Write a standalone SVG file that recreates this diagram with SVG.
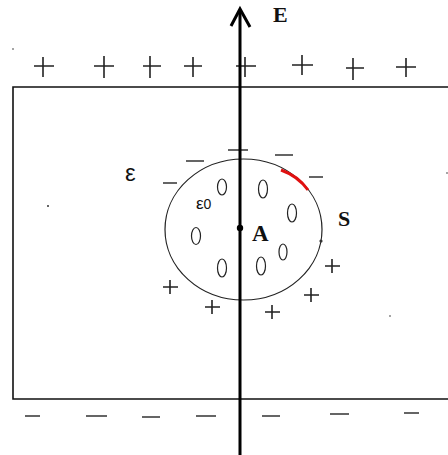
<svg xmlns="http://www.w3.org/2000/svg" width="448" height="455" viewBox="0 0 448 455">
<style>
.pl{stroke:#222;stroke-width:1.6;fill:none}
.mi{stroke:#333;stroke-width:1.6;fill:none}
.ho{stroke:#222;stroke-width:1.2;fill:none}
.lbl{font-family:"Liberation Serif",serif;fill:#111}
.gk{font-family:"Liberation Sans",sans-serif;fill:#111}
</style>
<rect width="448" height="455" fill="#fff"/>
<g id="plate">
<path d="M449 87H13V399H449" fill="none" stroke="#111" stroke-width="1.6"/>
</g>
<g id="top-charges" class="pl">
<path d="M34 66h20M43 57v20"/>
<path d="M94 66h20M104 56v22"/>
<path d="M143 66h18M150 56v22"/>
<path d="M184 66h18M193 57v20"/>
<path d="M236 66h20M245 57v20"/>
<path d="M292 65h21M302 55v20"/>
<path d="M346 68h18M353 58v22"/>
<path d="M396 67h20M406 58v19"/>
</g>
<g id="bottom-charges" class="mi">
<path d="M25 416h15M86 416h21M142 417h18M196 416h20M262 416h18M330 414h19M404 413h15"/>
</g>
<g id="sphere">
<ellipse cx="243.5" cy="229.5" rx="78.5" ry="70.5" fill="none" stroke="#222" stroke-width="1.2"/>
<path d="M281 170 Q298 176 308 190" fill="none" stroke="#e01010" stroke-width="3"/>
<circle cx="321" cy="241" r="1.6" fill="#333"/>
</g>
<g id="holes" class="ho">
<ellipse cx="222" cy="187" rx="4.5" ry="8"/>
<ellipse cx="263" cy="189" rx="4.5" ry="9"/>
<ellipse cx="292" cy="213" rx="4.5" ry="9"/>
<ellipse cx="196" cy="236" rx="4.5" ry="8.5"/>
<ellipse cx="283" cy="252" rx="4" ry="8"/>
<ellipse cx="222" cy="268" rx="4.5" ry="9"/>
<ellipse cx="261" cy="266" rx="4.5" ry="9"/>
</g>
<g id="surface-charges">
<path class="mi" d="M228 150h20M186 161h18M163 183h14M275 155h18M309 177h14"/>
<path class="pl" d="M163 287h15M170 280v14M205 307h15M212 300v14M265 312h15M272 305v14M304 295h15M311 288v14M325 266h15M332 259v14"/>
</g>
<g id="connectors">
<line x1="240" y1="10" x2="240" y2="455" stroke="#000" stroke-width="3"/>
<path d="M231 26L240 9L250 27" fill="none" stroke="#000" stroke-width="3"/>
<circle cx="240" cy="228" r="3.2" fill="#000"/>
</g>
<g id="labels">
<text x="273" y="22" class="lbl" font-size="22" font-weight="bold">E</text>
<text x="125" y="181" class="gk" font-size="24">ε</text>
<text x="196" y="209" class="gk" font-size="17">ε<tspan font-size="14">0</tspan></text>
<text x="252" y="241" class="lbl" font-size="23" font-weight="bold">A</text>
<text x="338" y="226" class="lbl" font-size="22" font-weight="bold">S</text>
</g>
<g id="specks" fill="#333">
<circle cx="13" cy="49" r="0.8"/>
<circle cx="48" cy="206" r="1"/>
<circle cx="390" cy="316" r="0.8"/>
<circle cx="447" cy="173" r="0.8"/>
</g>
</svg>
